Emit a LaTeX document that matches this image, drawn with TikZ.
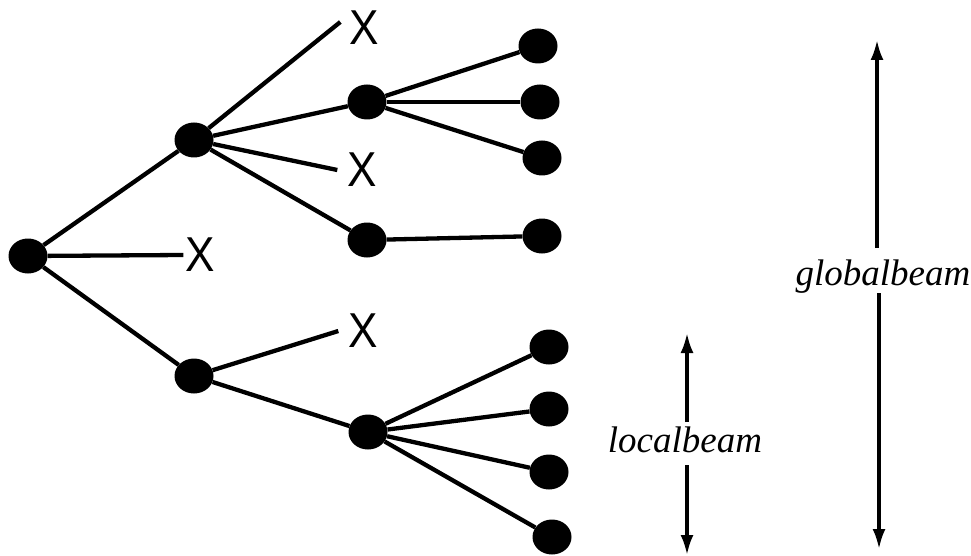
\documentclass[tikz,border=0pt]{standalone}
\usepackage{fontspec}
\setmainfont{Liberation Serif}
\newfontfamily\xsans{Liberation Sans}
\usetikzlibrary{shapes.geometric,arrows.meta}
\tikzset{
  dot/.style={ellipse,fill=black,draw=none,minimum width=39pt,minimum height=35pt,inner sep=0pt},
  xmark/.style={inner sep=2pt,font=\xsans\fontsize{49}{58}\selectfont,xscale=0.9},
  edge/.style={line width=4.3pt},
  beamarrow/.style={line width=3.2pt,-{Latex[length=20pt,width=13pt]}},
  beamlabel/.style={anchor=base,inner sep=3pt,font=\itshape\fontsize{37}{44}\selectfont}
}
\begin{document}
\begin{tikzpicture}[x=1pt,y=-1pt]
\useasboundingbox (0,0) rectangle (971,556);
% tree nodes
\node[dot] (root) at (28,256) {};
\node[dot] (A) at (194,140) {};
\node[dot] (B) at (194,376) {};
\node[dot] (C) at (367,102) {};
\node[dot] (D) at (367,240) {};
\node[dot] (E) at (368,432) {};
\node[dot] (c1) at (538,46) {};
\node[dot] (c2) at (540,102) {};
\node[dot] (c3) at (542,158) {};
\node[dot] (d1) at (542,236) {};
\node[dot] (e1) at (549,347) {};
\node[dot] (e2) at (549,409) {};
\node[dot] (e3) at (549,472) {};
\node[dot] (e4) at (552,537) {};
% pruned branches
\node[xmark] (X0) at (200,255) {X};
\node[xmark] (X1) at (364,28) {X};
\node[xmark] (X2) at (362,170) {X};
\node[xmark] (X3) at (363,331) {X};
% edges
\draw[edge] (root) -- (A);
\draw[edge] (root) -- (B);
\draw[edge] (root) -- (X0.west);
\draw[edge] (A) -- ([xshift=-7pt,yshift=6pt]X1.west);
\draw[edge] (A) -- (C);
\draw[edge] (A) -- ([xshift=-8pt]X2.west);
\draw[edge] (A) -- (D);
\draw[edge] (B) -- ([xshift=-8pt]X3.west);
\draw[edge] (B) -- (E);
\draw[edge] (C) -- (c1);
\draw[edge] (C) -- (c2);
\draw[edge] (C) -- (c3);
\draw[edge] (D) -- (d1);
\draw[edge] (E) -- (e1);
\draw[edge] (E) -- (e2);
\draw[edge] (E) -- (e3);
\draw[edge] (E) -- (e4);
% beam labels
\node[beamlabel] (lb) at (685,452) {localbeam};
\node[beamlabel] (gb) at (883,285) {globalbeam};
\coordinate (lbu0) at (687,422);
\coordinate (lbu1) at (687,333);
\coordinate (lbd0) at (687,465);
\coordinate (lbd1) at (687,555);
\coordinate (gbu0) at (877,248);
\coordinate (gbu1) at (877,40);
\coordinate (gbd0) at (879,293);
\coordinate (gbd1) at (879,549);
\draw[beamarrow] (lbu0) -- (lbu1);
\draw[beamarrow] (lbd0) -- (lbd1);
\draw[beamarrow] (gbu0) -- (gbu1);
\draw[beamarrow] (gbd0) -- (gbd1);
\end{tikzpicture}
\end{document}
